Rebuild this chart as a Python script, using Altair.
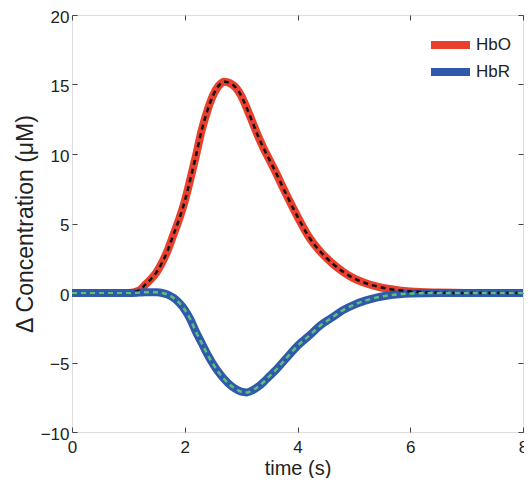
import altair as alt
import pandas as pd

# ---- data ----
time_s = [0, 0.5, 1.0, 1.2, 1.3, 1.4, 1.5, 1.6, 1.7, 1.8, 1.9, 2.0, 2.1, 2.2, 2.3,
          2.4, 2.5, 2.6, 2.7, 2.8, 2.9, 3.0, 3.1, 3.2, 3.3, 3.4, 3.5, 3.6, 3.8,
          4.0, 4.2, 4.4, 4.6, 4.8, 5.0, 5.2, 5.4, 5.6, 5.8, 6.0, 6.5, 7.0, 7.5, 8.0]
hbo = [0, 0, 0, 0.2, 0.6, 1.0, 1.5, 2.2, 3.1, 4.2, 5.3, 6.6, 8.2, 9.9, 11.7,
       13.1, 14.2, 14.9, 15.2, 15.1, 14.8, 14.2, 13.3, 12.3, 11.3, 10.4, 9.6, 8.8, 7.1,
       5.5, 4.05, 3.0, 2.2, 1.55, 1.05, 0.72, 0.48, 0.31, 0.19, 0.11, 0.03, 0, 0, 0]
hbr = [0, 0, 0, 0.03, 0.05, 0.06, 0.05, 0.0, -0.12, -0.35, -0.7, -1.2, -1.9, -2.8, -3.6,
       -4.4, -5.1, -5.7, -6.2, -6.6, -6.9, -7.1, -7.15, -7.0, -6.75, -6.4, -6.0, -5.6, -4.7,
       -3.8, -3.1, -2.35, -1.8, -1.25, -0.85, -0.55, -0.33, -0.18, -0.09, -0.04, 0, 0, 0, 0]
series_names = ["HbO", "HbR"]
series_colors = ["#e8402c", "#3059aa"]
overlay_colors = ["#111111", "#5cbf7c"]
x_ticks = [0, 2, 4, 6, 8]
y_ticks = [-10, -5, 0, 5, 10, 15, 20]

rows = []
for t, a, b in zip(time_s, hbo, hbr):
    rows.append({"time": t, "value": a, "series": "HbO"})
    rows.append({"time": t, "value": b, "series": "HbR"})
df = pd.DataFrame(rows)

FONT = "Liberation Sans"
xs = alt.Scale(domain=[0, 8], nice=False, zero=False)
ys = alt.Scale(domain=[-10, 20], nice=False, zero=False)


def tick_axis(orient, values):
    return alt.Axis(orient=orient, values=values, labels=False, domain=False,
                    ticks=True, tickSize=5, offset=-5, tickColor="#444",
                    tickWidth=1, grid=False, title=None)


base = alt.Chart(df)

main = base.mark_line(strokeWidth=8, interpolate="monotone").encode(
    x=alt.X("time:Q", scale=xs,
            axis=alt.Axis(orient="bottom", values=x_ticks, title="time (s)",
                          ticks=False, domain=False, grid=False,
                          labelPadding=7, labelFlush=False, titlePadding=3,
                          labelFontSize=17, titleFontSize=20,
                          labelFont=FONT, titleFont=FONT,
                          labelColor="#222", titleColor="#222",
                          titleFontWeight="normal")),
    y=alt.Y("value:Q", scale=ys,
            axis=alt.Axis(orient="left", values=y_ticks,
                          title="Δ Concentration (μM)",
                          ticks=False, domain=False, grid=False,
                          labelPadding=3, labelFlush=False, labelOffset=2,
                          titlePadding=3,
                          labelFontSize=17, titleFontSize=23,
                          labelFont=FONT, titleFont=FONT,
                          labelColor="#222", titleColor="#222",
                          titleFontWeight="normal")),
    color=alt.Color("series:N",
                    scale=alt.Scale(domain=series_names, range=series_colors),
                    legend=alt.Legend(title=None, orient="none", legendX=355,
                                      legendY=20, symbolType="stroke",
                                      symbolStrokeWidth=8, symbolSize=1521,
                                      clipHeight=20,
                                      labelFontSize=17, labelFont=FONT,
                                      labelColor="#222", labelOffset=2,
                                      rowPadding=7, padding=0)),
)

dash_hbo = base.transform_filter(alt.datum.series == "HbO").mark_line(
    strokeWidth=2.5, strokeDash=[5, 4], color=overlay_colors[0], interpolate="monotone"
).encode(
    x=alt.X("time:Q", scale=xs, axis=tick_axis("bottom", x_ticks)),
    y=alt.Y("value:Q", scale=ys, axis=tick_axis("left", y_ticks)),
)

dash_hbr = base.transform_filter(alt.datum.series == "HbR").mark_line(
    strokeWidth=2.5, strokeDash=[5, 4], color=overlay_colors[1], interpolate="monotone"
).encode(
    x=alt.X("time:Q", scale=xs, axis=tick_axis("top", x_ticks)),
    y=alt.Y("value:Q", scale=ys, axis=tick_axis("right", y_ticks)),
)

chart = alt.layer(main, dash_hbo, dash_hbr).resolve_axis(
    x="independent", y="independent"
).properties(
    width=451, height=417,
    autosize=alt.AutoSizeParams(type="none"),
    padding={"left": 64, "top": 7, "right": 1, "bottom": 46},
).configure_view(stroke="#444", strokeWidth=1).configure(background="white")

chart.save("out.html", embed_options={"renderer": "svg", "actions": False})
